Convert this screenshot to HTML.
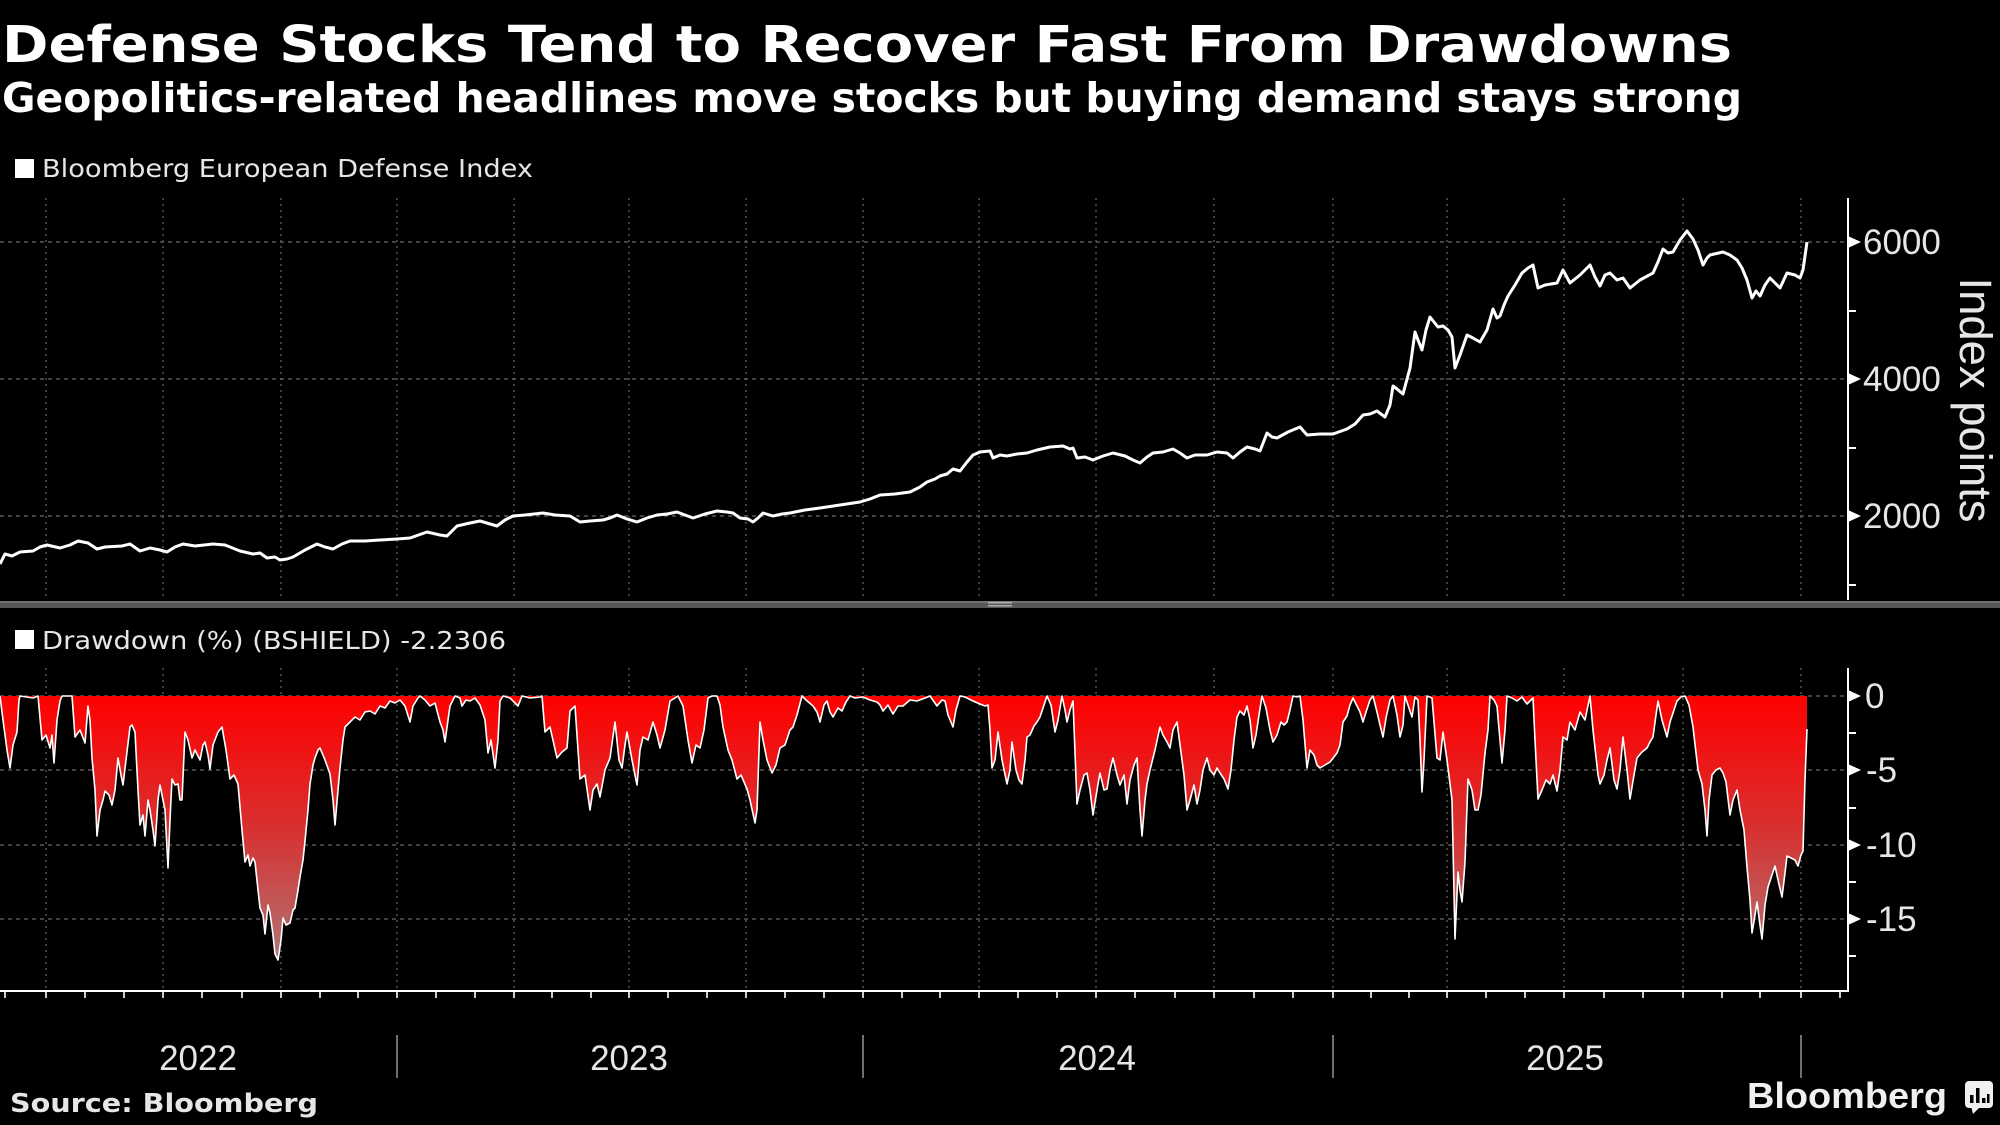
<!DOCTYPE html>
<html><head><meta charset="utf-8"><style>
html,body{margin:0;padding:0;background:#000;}
body{width:2000px;height:1125px;overflow:hidden;}
svg{display:block;}
</style></head><body>
<svg width="2000" height="1125" viewBox="0 0 2000 1125" xmlns="http://www.w3.org/2000/svg">
<defs>
<linearGradient id="dd" x1="0" y1="696" x2="0" y2="960" gradientUnits="userSpaceOnUse">
<stop offset="0" stop-color="#ff0000"/>
<stop offset="0.5" stop-color="#d83030"/>
<stop offset="1" stop-color="#b07474"/>
</linearGradient>
</defs>
<rect width="2000" height="1125" fill="#000"/>

<!-- Titles -->
<text x="2" y="62" font-family="DejaVu Sans, Liberation Sans, sans-serif" font-weight="bold" font-size="51" fill="#fff" textLength="1730" lengthAdjust="spacingAndGlyphs">Defense Stocks Tend to Recover Fast From Drawdowns</text>
<text x="2" y="112" font-family="DejaVu Sans, Liberation Sans, sans-serif" font-weight="bold" font-size="41" fill="#fff" textLength="1740" lengthAdjust="spacingAndGlyphs">Geopolitics-related headlines move stocks but buying demand stays strong</text>

<!-- Legend 1 -->
<rect x="15" y="159" width="19" height="19" fill="#fff"/>
<text x="42" y="177" font-family="DejaVu Sans, Liberation Sans, sans-serif" font-size="25" fill="#e6e6e6" textLength="491" lengthAdjust="spacingAndGlyphs">Bloomberg European Defense Index</text>

<!-- Top chart grid -->
<g stroke="#6a6a6a" stroke-width="1.2" fill="none">
<g stroke-dasharray="4 4">
<line x1="0" y1="242" x2="1848" y2="242"/>
<line x1="0" y1="379" x2="1848" y2="379"/>
<line x1="0" y1="516" x2="1848" y2="516"/>
</g>
<g stroke-dasharray="2 4">
<line x1="46" y1="198" x2="46" y2="600"/><line x1="163" y1="198" x2="163" y2="600"/><line x1="281" y1="198" x2="281" y2="600"/><line x1="397" y1="198" x2="397" y2="600"/>
<line x1="514" y1="198" x2="514" y2="600"/><line x1="629" y1="198" x2="629" y2="600"/><line x1="746" y1="198" x2="746" y2="600"/><line x1="863" y1="198" x2="863" y2="600"/>
<line x1="979" y1="198" x2="979" y2="600"/><line x1="1096" y1="198" x2="1096" y2="600"/><line x1="1214" y1="198" x2="1214" y2="600"/><line x1="1333" y1="198" x2="1333" y2="600"/>
<line x1="1447" y1="198" x2="1447" y2="600"/><line x1="1564" y1="198" x2="1564" y2="600"/><line x1="1683" y1="198" x2="1683" y2="600"/><line x1="1801" y1="198" x2="1801" y2="600"/>
</g>
</g>

<!-- Top series -->
<polyline fill="none" stroke="#fff" stroke-width="3" stroke-linejoin="round" points="0,564 5,554 12,556 20,552 33,551 40,547 47,545 60,548 70,545 78,541 88,543 97,549 105,547 122,546 130,544 140,551 150,548 160,550 167,552 175,547 183,544 195,546 213,544 225,545 240,551 253,554 260,553 267,558 275,557 280,560 287,559 293,557 305,550 317,544 325,547 333,549 342,544 350,541 365,541 380,540 397,539 410,538 427,532 440,535 447,536 457,526 470,523 480,521 497,526 505,520 513,516 525,515 543,513 555,515 570,516 580,522 590,521 603,520 610,518 617,515 627,519 637,522 647,518 657,515 667,514 677,512 685,515 693,518 705,514 717,511 727,512 733,513 740,518 748,519 753,522 758,518 763,513 773,516 782,514 790,513 805,510 820,508 840,505 860,502 870,499 880,495 895,494 910,492 920,487 927,482 935,479 940,476 947,474 953,469 960,471 967,462 973,455 980,452 990,451 993,458 1000,455 1007,456 1017,454 1027,453 1037,450 1050,447 1063,446 1070,449 1073,448 1077,458 1085,457 1093,460 1103,456 1113,453 1125,456 1133,460 1140,463 1147,457 1153,453 1163,452 1173,449 1180,453 1187,458 1195,455 1207,455 1217,452 1227,453 1233,458 1240,452 1247,447 1255,449 1260,451 1267,433 1272,437 1277,438 1288,432 1300,427 1307,435 1320,434 1333,434 1347,429 1355,424 1363,415 1370,414 1377,411 1385,417 1390,405 1393,386 1397,389 1403,394 1410,368 1415,332 1418,340 1422,350 1426,330 1430,317 1438,327 1443,326 1448,330 1452,337 1455,368 1460,355 1467,335 1473,338 1480,342 1487,330 1493,309 1497,318 1500,316 1504,305 1508,296 1515,285 1522,273 1528,268 1533,265 1538,288 1545,285 1557,283 1563,270 1570,283 1580,275 1590,265 1595,277 1600,286 1605,275 1610,273 1617,280 1623,278 1630,288 1640,280 1653,273 1658,262 1663,249 1668,253 1673,252 1680,240 1687,231 1693,239 1698,250 1703,265 1707,258 1710,255 1723,252 1730,255 1737,260 1742,268 1747,280 1752,298 1756,291 1760,296 1765,285 1770,278 1775,283 1780,288 1787,273 1795,275 1800,278 1803,270 1807,242"/>

<!-- Top right axis -->
<g stroke="#fff" stroke-width="2" fill="#fff">
<line x1="1848" y1="198" x2="1848" y2="600"/>
<line x1="1848" y1="311" x2="1856" y2="311"/>
<line x1="1848" y1="448" x2="1856" y2="448"/>
<line x1="1848" y1="585" x2="1856" y2="585"/>
<polygon stroke="none" points="1848,236 1861,242 1848,248"/>
<polygon stroke="none" points="1848,373 1861,379 1848,385"/>
<polygon stroke="none" points="1848,510 1861,516 1848,522"/>
</g>
<g font-family="Liberation Sans, Arial, sans-serif" font-size="35" fill="#e6e6e6">
<text x="1863" y="254">6000</text>
<text x="1863" y="391">4000</text>
<text x="1863" y="528">2000</text>
</g>
<text transform="translate(1960,400) rotate(90)" text-anchor="middle" font-family="Liberation Sans, Arial, sans-serif" font-size="45" fill="#e6e6e6" textLength="245" lengthAdjust="spacingAndGlyphs">Index points</text>

<!-- Separator bar -->
<rect x="0" y="601" width="2000" height="7" fill="#585858"/>
<rect x="0" y="601" width="2000" height="1.5" fill="#777"/>
<rect x="988" y="602" width="24" height="1.5" fill="#aaa"/>
<rect x="988" y="605" width="24" height="1.5" fill="#aaa"/>

<!-- Legend 2 -->
<rect x="15" y="630" width="19" height="19" fill="#fff"/>
<text x="42" y="649" font-family="DejaVu Sans, Liberation Sans, sans-serif" font-size="25" fill="#e6e6e6" textLength="464" lengthAdjust="spacingAndGlyphs">Drawdown (%) (BSHIELD) -2.2306</text>

<!-- Bottom grid -->
<g stroke="#6a6a6a" stroke-width="1.2" fill="none">
<g stroke-dasharray="4 4">
<line x1="0" y1="696" x2="1848" y2="696"/>
<line x1="0" y1="770" x2="1848" y2="770"/>
<line x1="0" y1="845" x2="1848" y2="845"/>
<line x1="0" y1="919" x2="1848" y2="919"/>
</g>
<g stroke-dasharray="2 4">
<line x1="46" y1="668" x2="46" y2="991"/><line x1="163" y1="668" x2="163" y2="991"/><line x1="281" y1="668" x2="281" y2="991"/><line x1="397" y1="668" x2="397" y2="991"/>
<line x1="514" y1="668" x2="514" y2="991"/><line x1="629" y1="668" x2="629" y2="991"/><line x1="746" y1="668" x2="746" y2="991"/><line x1="863" y1="668" x2="863" y2="991"/>
<line x1="979" y1="668" x2="979" y2="991"/><line x1="1096" y1="668" x2="1096" y2="991"/><line x1="1214" y1="668" x2="1214" y2="991"/><line x1="1333" y1="668" x2="1333" y2="991"/>
<line x1="1447" y1="668" x2="1447" y2="991"/><line x1="1564" y1="668" x2="1564" y2="991"/><line x1="1683" y1="668" x2="1683" y2="991"/><line x1="1801" y1="668" x2="1801" y2="991"/>
</g>
</g>

<!-- Drawdown area -->
<polygon fill="url(#dd)" stroke="none" points="0,696 0,696 3,720 7,750 10,768 13,745 17,732 19,700 20,696 33,698 38,696 42,740 46,735 50,748 52,735 54,763 57,720 60,701 62,696 72,696 75,737 80,730 85,743 88,706 90,720 92,758 95,790 97,836 100,810 103,800 105,791 109,795 112,805 115,790 118,758 121,775 123,785 126,760 130,727 132,725 135,732 138,790 140,825 143,815 145,836 148,800 150,810 153,830 155,846 158,800 160,785 163,800 165,810 168,868 170,820 172,779 175,785 178,784 180,800 182,800 185,732 188,740 192,758 195,750 200,760 203,745 205,742 208,755 210,769 213,745 218,732 222,727 226,750 230,779 234,775 238,784 242,830 245,862 248,855 250,866 253,858 255,862 258,890 260,908 263,915 265,934 268,905 270,913 273,935 275,954 278,960 281,940 283,918 286,925 290,923 293,910 295,908 298,890 300,877 303,860 305,841 308,810 310,784 313,765 315,758 318,750 320,748 325,760 330,774 333,800 335,825 338,790 340,768 343,740 345,727 350,722 355,717 360,720 365,712 370,711 375,714 380,706 385,708 390,701 395,703 400,700 405,706 410,722 413,706 418,698 420,696 425,700 430,706 435,703 440,722 443,730 445,742 448,720 450,706 455,696 460,698 462,706 466,700 470,701 475,698 480,705 485,720 488,753 491,740 495,768 498,740 500,701 503,696 510,698 518,706 522,696 530,698 540,697 542,696 545,732 550,727 557,758 562,752 567,748 570,711 575,706 580,779 585,775 590,810 593,790 597,784 600,797 605,770 610,758 615,722 619,760 622,768 625,745 627,732 632,760 637,785 640,750 643,737 648,740 653,722 657,735 660,748 665,730 670,701 675,698 678,696 683,706 688,740 692,763 696,745 700,748 704,730 708,698 712,696 717,696 720,705 723,727 728,750 732,760 737,779 741,775 747,789 750,800 755,823 757,810 760,722 763,740 767,760 772,773 776,765 780,748 785,745 790,730 793,727 797,715 802,696 806,700 813,706 817,712 820,722 824,705 827,701 830,712 833,717 838,708 842,711 846,702 850,696 855,698 863,697 870,700 877,702 880,705 883,711 888,705 893,714 898,706 903,706 910,700 917,701 925,698 930,696 937,706 942,700 945,701 948,715 953,727 956,710 960,696 965,697 973,701 980,704 985,706 988,705 990,730 992,768 995,760 998,732 1002,760 1007,784 1010,770 1012,742 1016,770 1019,780 1022,784 1025,760 1027,737 1030,735 1034,726 1037,722 1040,717 1044,705 1047,696 1051,705 1055,732 1058,720 1062,696 1065,710 1067,722 1070,710 1073,701 1077,804 1080,790 1084,775 1087,773 1090,790 1093,815 1097,790 1100,773 1104,790 1107,789 1110,770 1113,758 1117,775 1120,785 1124,775 1127,804 1130,780 1134,765 1137,758 1140,810 1142,836 1145,800 1147,784 1150,770 1155,750 1160,727 1163,735 1167,742 1170,748 1173,730 1177,722 1180,745 1184,775 1187,810 1190,800 1194,785 1197,804 1200,790 1203,770 1207,758 1210,770 1214,775 1217,768 1220,773 1224,779 1228,789 1231,770 1234,740 1237,717 1240,711 1244,715 1247,706 1250,720 1253,748 1256,735 1259,715 1262,696 1266,708 1270,730 1273,742 1277,735 1281,722 1284,725 1287,722 1290,710 1293,696 1297,697 1300,696 1303,720 1307,768 1310,750 1314,755 1317,765 1320,768 1325,765 1330,762 1337,753 1340,745 1343,722 1347,716 1350,705 1353,698 1357,706 1360,712 1363,722 1366,712 1370,700 1373,696 1377,712 1380,725 1383,737 1386,718 1390,700 1393,696 1397,715 1400,737 1403,725 1405,696 1408,705 1412,717 1415,697 1418,700 1420,740 1422,792 1424,760 1427,696 1432,698 1437,758 1440,760 1443,732 1447,760 1450,784 1452,800 1455,939 1458,872 1460,890 1462,902 1465,862 1468,779 1472,790 1475,810 1478,810 1481,795 1485,753 1488,730 1490,696 1494,700 1497,706 1500,740 1502,763 1505,730 1507,696 1512,698 1517,701 1522,697 1527,704 1530,701 1533,698 1535,740 1538,799 1542,790 1546,780 1550,784 1553,775 1557,791 1560,770 1563,737 1567,740 1570,722 1575,730 1580,712 1585,720 1590,696 1593,730 1595,748 1598,775 1600,784 1604,775 1607,760 1610,748 1614,780 1617,789 1620,770 1623,737 1627,770 1630,799 1634,775 1637,758 1642,752 1647,748 1650,742 1653,737 1656,715 1658,701 1662,720 1667,737 1670,722 1674,710 1677,701 1681,697 1685,696 1689,705 1693,727 1698,770 1702,784 1705,810 1707,836 1709,800 1712,775 1716,770 1720,768 1723,773 1726,782 1730,815 1733,800 1737,790 1740,810 1744,830 1747,867 1750,900 1752,933 1755,915 1757,902 1760,925 1762,939 1765,905 1768,887 1772,875 1775,866 1778,880 1782,897 1785,873 1787,856 1791,858 1795,860 1798,866 1801,855 1803,851 1805,780 1807,729 1807,696"/>
<polyline fill="none" stroke="#fff" stroke-width="1.6" stroke-linejoin="round" points="0,696 3,720 7,750 10,768 13,745 17,732 19,700 20,696 33,698 38,696 42,740 46,735 50,748 52,735 54,763 57,720 60,701 62,696 72,696 75,737 80,730 85,743 88,706 90,720 92,758 95,790 97,836 100,810 103,800 105,791 109,795 112,805 115,790 118,758 121,775 123,785 126,760 130,727 132,725 135,732 138,790 140,825 143,815 145,836 148,800 150,810 153,830 155,846 158,800 160,785 163,800 165,810 168,868 170,820 172,779 175,785 178,784 180,800 182,800 185,732 188,740 192,758 195,750 200,760 203,745 205,742 208,755 210,769 213,745 218,732 222,727 226,750 230,779 234,775 238,784 242,830 245,862 248,855 250,866 253,858 255,862 258,890 260,908 263,915 265,934 268,905 270,913 273,935 275,954 278,960 281,940 283,918 286,925 290,923 293,910 295,908 298,890 300,877 303,860 305,841 308,810 310,784 313,765 315,758 318,750 320,748 325,760 330,774 333,800 335,825 338,790 340,768 343,740 345,727 350,722 355,717 360,720 365,712 370,711 375,714 380,706 385,708 390,701 395,703 400,700 405,706 410,722 413,706 418,698 420,696 425,700 430,706 435,703 440,722 443,730 445,742 448,720 450,706 455,696 460,698 462,706 466,700 470,701 475,698 480,705 485,720 488,753 491,740 495,768 498,740 500,701 503,696 510,698 518,706 522,696 530,698 540,697 542,696 545,732 550,727 557,758 562,752 567,748 570,711 575,706 580,779 585,775 590,810 593,790 597,784 600,797 605,770 610,758 615,722 619,760 622,768 625,745 627,732 632,760 637,785 640,750 643,737 648,740 653,722 657,735 660,748 665,730 670,701 675,698 678,696 683,706 688,740 692,763 696,745 700,748 704,730 708,698 712,696 717,696 720,705 723,727 728,750 732,760 737,779 741,775 747,789 750,800 755,823 757,810 760,722 763,740 767,760 772,773 776,765 780,748 785,745 790,730 793,727 797,715 802,696 806,700 813,706 817,712 820,722 824,705 827,701 830,712 833,717 838,708 842,711 846,702 850,696 855,698 863,697 870,700 877,702 880,705 883,711 888,705 893,714 898,706 903,706 910,700 917,701 925,698 930,696 937,706 942,700 945,701 948,715 953,727 956,710 960,696 965,697 973,701 980,704 985,706 988,705 990,730 992,768 995,760 998,732 1002,760 1007,784 1010,770 1012,742 1016,770 1019,780 1022,784 1025,760 1027,737 1030,735 1034,726 1037,722 1040,717 1044,705 1047,696 1051,705 1055,732 1058,720 1062,696 1065,710 1067,722 1070,710 1073,701 1077,804 1080,790 1084,775 1087,773 1090,790 1093,815 1097,790 1100,773 1104,790 1107,789 1110,770 1113,758 1117,775 1120,785 1124,775 1127,804 1130,780 1134,765 1137,758 1140,810 1142,836 1145,800 1147,784 1150,770 1155,750 1160,727 1163,735 1167,742 1170,748 1173,730 1177,722 1180,745 1184,775 1187,810 1190,800 1194,785 1197,804 1200,790 1203,770 1207,758 1210,770 1214,775 1217,768 1220,773 1224,779 1228,789 1231,770 1234,740 1237,717 1240,711 1244,715 1247,706 1250,720 1253,748 1256,735 1259,715 1262,696 1266,708 1270,730 1273,742 1277,735 1281,722 1284,725 1287,722 1290,710 1293,696 1297,697 1300,696 1303,720 1307,768 1310,750 1314,755 1317,765 1320,768 1325,765 1330,762 1337,753 1340,745 1343,722 1347,716 1350,705 1353,698 1357,706 1360,712 1363,722 1366,712 1370,700 1373,696 1377,712 1380,725 1383,737 1386,718 1390,700 1393,696 1397,715 1400,737 1403,725 1405,696 1408,705 1412,717 1415,697 1418,700 1420,740 1422,792 1424,760 1427,696 1432,698 1437,758 1440,760 1443,732 1447,760 1450,784 1452,800 1455,939 1458,872 1460,890 1462,902 1465,862 1468,779 1472,790 1475,810 1478,810 1481,795 1485,753 1488,730 1490,696 1494,700 1497,706 1500,740 1502,763 1505,730 1507,696 1512,698 1517,701 1522,697 1527,704 1530,701 1533,698 1535,740 1538,799 1542,790 1546,780 1550,784 1553,775 1557,791 1560,770 1563,737 1567,740 1570,722 1575,730 1580,712 1585,720 1590,696 1593,730 1595,748 1598,775 1600,784 1604,775 1607,760 1610,748 1614,780 1617,789 1620,770 1623,737 1627,770 1630,799 1634,775 1637,758 1642,752 1647,748 1650,742 1653,737 1656,715 1658,701 1662,720 1667,737 1670,722 1674,710 1677,701 1681,697 1685,696 1689,705 1693,727 1698,770 1702,784 1705,810 1707,836 1709,800 1712,775 1716,770 1720,768 1723,773 1726,782 1730,815 1733,800 1737,790 1740,810 1744,830 1747,867 1750,900 1752,933 1755,915 1757,902 1760,925 1762,939 1765,905 1768,887 1772,875 1775,866 1778,880 1782,897 1785,873 1787,856 1791,858 1795,860 1798,866 1801,855 1803,851 1805,780 1807,729"/>

<!-- Bottom axes -->
<g stroke="#fff" stroke-width="2" fill="#fff">
<line x1="1848" y1="668" x2="1848" y2="992"/>
<line x1="0" y1="991" x2="1849" y2="991"/>
<line x1="1848" y1="733" x2="1856" y2="733"/>
<line x1="1848" y1="808" x2="1856" y2="808"/>
<line x1="1848" y1="882" x2="1856" y2="882"/>
<line x1="1848" y1="956" x2="1856" y2="956"/>
<polygon stroke="none" points="1848,690 1861,696 1848,702"/>
<polygon stroke="none" points="1848,764 1861,770 1848,776"/>
<polygon stroke="none" points="1848,839 1861,845 1848,851"/>
<polygon stroke="none" points="1848,913 1861,919 1848,925"/>
</g>
<g stroke="#fff" stroke-width="1.6">
<line x1="5" y1="991" x2="5" y2="998"/><line x1="46" y1="991" x2="46" y2="998"/><line x1="85" y1="991" x2="85" y2="998"/><line x1="124" y1="991" x2="124" y2="998"/><line x1="163" y1="991" x2="163" y2="998"/><line x1="202" y1="991" x2="202" y2="998"/><line x1="242" y1="991" x2="242" y2="998"/><line x1="281" y1="991" x2="281" y2="998"/><line x1="320" y1="991" x2="320" y2="998"/><line x1="358" y1="991" x2="358" y2="998"/><line x1="397" y1="991" x2="397" y2="998"/><line x1="436" y1="991" x2="436" y2="998"/><line x1="475" y1="991" x2="475" y2="998"/><line x1="514" y1="991" x2="514" y2="998"/><line x1="552" y1="991" x2="552" y2="998"/><line x1="591" y1="991" x2="591" y2="998"/><line x1="629" y1="991" x2="629" y2="998"/><line x1="668" y1="991" x2="668" y2="998"/><line x1="707" y1="991" x2="707" y2="998"/><line x1="746" y1="991" x2="746" y2="998"/><line x1="785" y1="991" x2="785" y2="998"/><line x1="824" y1="991" x2="824" y2="998"/><line x1="863" y1="991" x2="863" y2="998"/><line x1="902" y1="991" x2="902" y2="998"/><line x1="940" y1="991" x2="940" y2="998"/><line x1="979" y1="991" x2="979" y2="998"/><line x1="1018" y1="991" x2="1018" y2="998"/><line x1="1057" y1="991" x2="1057" y2="998"/><line x1="1096" y1="991" x2="1096" y2="998"/><line x1="1135" y1="991" x2="1135" y2="998"/><line x1="1175" y1="991" x2="1175" y2="998"/><line x1="1214" y1="991" x2="1214" y2="998"/><line x1="1254" y1="991" x2="1254" y2="998"/><line x1="1293" y1="991" x2="1293" y2="998"/><line x1="1333" y1="991" x2="1333" y2="998"/><line x1="1371" y1="991" x2="1371" y2="998"/><line x1="1409" y1="991" x2="1409" y2="998"/><line x1="1447" y1="991" x2="1447" y2="998"/><line x1="1486" y1="991" x2="1486" y2="998"/><line x1="1525" y1="991" x2="1525" y2="998"/><line x1="1564" y1="991" x2="1564" y2="998"/><line x1="1604" y1="991" x2="1604" y2="998"/><line x1="1643" y1="991" x2="1643" y2="998"/><line x1="1683" y1="991" x2="1683" y2="998"/><line x1="1722" y1="991" x2="1722" y2="998"/><line x1="1760" y1="991" x2="1760" y2="998"/><line x1="1801" y1="991" x2="1801" y2="998"/><line x1="1840" y1="991" x2="1840" y2="998"/>
</g>
<g font-family="Liberation Sans, Arial, sans-serif" font-size="35" fill="#e6e6e6">
<text x="1865" y="708">0</text>
<text x="1866" y="782">-5</text>
<text x="1866" y="857">-10</text>
<text x="1866" y="931">-15</text>
</g>

<!-- Year labels -->
<g stroke="#8a8a8a" stroke-width="1.6">
<line x1="397" y1="1035" x2="397" y2="1078"/>
<line x1="863" y1="1035" x2="863" y2="1078"/>
<line x1="1333" y1="1035" x2="1333" y2="1078"/>
<line x1="1801" y1="1035" x2="1801" y2="1078"/>
</g>
<g font-family="Liberation Sans, Arial, sans-serif" font-size="35" fill="#e6e6e6" text-anchor="middle">
<text x="198" y="1070">2022</text>
<text x="629" y="1070">2023</text>
<text x="1097" y="1070">2024</text>
<text x="1565" y="1070">2025</text>
</g>

<!-- Footer -->
<text x="10" y="1112" font-family="DejaVu Sans, Liberation Sans, sans-serif" font-weight="bold" font-size="26" fill="#e6e6e6" textLength="308" lengthAdjust="spacingAndGlyphs">Source: Bloomberg</text>
<text x="1747" y="1108" font-family="Liberation Sans, Arial, sans-serif" font-weight="bold" font-size="36" fill="#f0f0f0" textLength="200" lengthAdjust="spacingAndGlyphs">Bloomberg</text>
<rect x="1965" y="1081" width="28" height="27" rx="4" fill="#f0f0f0"/>
<polygon points="1971,1106 1981,1106 1973,1114" fill="#f0f0f0"/>
<rect x="1970" y="1095" width="3.5" height="8" fill="#000"/>
<rect x="1976" y="1088" width="3.5" height="15" fill="#000"/>
<rect x="1982" y="1098" width="3.5" height="5" fill="#000"/>
<rect x="1987" y="1094" width="2.5" height="9" fill="#000"/>
</svg>
</body></html>
